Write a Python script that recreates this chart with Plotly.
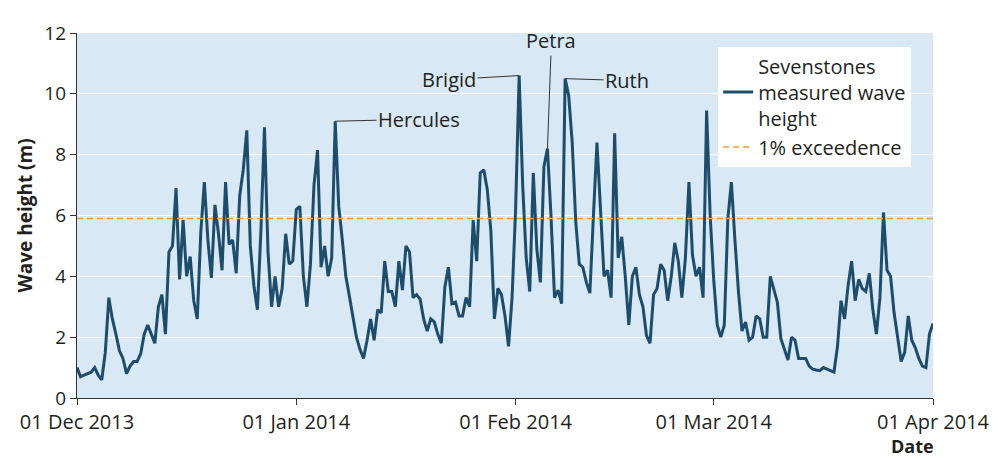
import pandas as pd
import plotly.graph_objects as go

# ---- data (12-hourly from 01 Dec 2013 00:00) ----
start_date = "2013-12-01"
wave_height = [
    1.0, 0.7, 0.75, 0.8, 0.85, 1.0, 0.75, 0.6, 1.5, 3.3,
    2.6, 2.1, 1.55, 1.3, 0.8, 1.05, 1.2, 1.2, 1.45, 2.1,
    2.4, 2.1, 1.8, 3.0, 3.4, 2.1, 4.8, 5.0, 6.9, 3.9,
    5.85, 4.0, 4.65, 3.2, 2.6, 5.45, 7.1, 5.2, 3.95, 6.35,
    5.4, 4.2, 7.1, 5.05, 5.2, 4.1, 6.65, 7.5, 8.8, 5.0,
    3.7, 2.9, 5.5, 8.9, 4.8, 3.0, 4.0, 3.0, 3.6, 5.4,
    4.4, 4.5, 6.2, 6.3, 4.0, 3.0, 4.4, 7.0, 8.15, 4.3,
    5.0, 4.0, 4.6, 9.1, 6.3, 5.2, 4.0, 3.35, 2.6, 2.0,
    1.6, 1.3, 1.9, 2.6, 1.9, 2.9, 2.8, 4.5, 3.5, 3.5,
    3.0, 4.5, 3.55, 5.0, 4.8, 3.3, 3.4, 3.25, 2.6, 2.2,
    2.6, 2.5, 2.1, 1.8, 3.65, 4.3, 3.1, 3.15, 2.7, 2.7,
    3.3, 3.0, 5.85, 4.5, 7.4, 7.5, 6.85, 5.5, 2.6, 3.6,
    3.4, 2.7, 1.7, 3.3, 6.2, 10.6, 7.0, 4.6, 3.5, 7.4,
    4.9, 3.8, 7.6, 8.2, 6.0, 3.3, 3.55, 3.1, 10.5, 9.95,
    8.4, 5.8, 4.4, 4.3, 3.8, 3.45, 6.0, 8.4, 6.2, 4.0,
    4.2, 3.3, 8.7, 4.6, 5.3, 4.0, 2.4, 4.0, 4.3, 3.4,
    3.0, 2.05, 1.8, 3.4, 3.6, 4.4, 4.2, 3.2, 4.0, 5.1,
    4.5, 3.3, 4.6, 7.1, 4.7, 4.0, 4.3, 3.3, 9.45, 6.0,
    3.9, 2.4, 2.0, 2.4, 5.9, 7.1, 5.2, 3.5, 2.2, 2.5,
    1.9, 2.0, 2.7, 2.6, 2.0, 2.0, 4.0, 3.55, 3.15, 1.95,
    1.6, 1.25, 2.0, 1.9, 1.3, 1.3, 1.3, 1.05, 0.95, 0.92,
    0.9, 1.0, 0.95, 0.88, 0.85, 1.7, 3.2, 2.6, 3.7, 4.5,
    3.2, 3.9, 3.6, 3.5, 4.1, 2.9, 2.1, 3.3, 6.1, 4.2,
    4.0, 2.8, 2.0, 1.2, 1.5, 2.7, 1.9, 1.65, 1.3, 1.05,
    1.0, 2.1, 2.45,
]
exceedence_1pct = 5.9
storm_names = ["Hercules", "Brigid", "Petra", "Ruth"]
storm_dates = ["2014-01-06", "2014-02-01", "2014-02-05", "2014-02-08"]
x_tick_dates = ["2013-12-01", "2014-01-01", "2014-02-01", "2014-03-01", "2014-04-01"]
x_tick_labels = ["01 Dec 2013", "01 Jan 2014", "01 Feb 2014", "01 Mar 2014", "01 Apr 2014"]
y_ticks = [0, 2, 4, 6, 8, 10, 12]

# ---- styling ----
FONT = "Open Sans, Noto Sans, DejaVu Sans, sans-serif"
TXT = "#231f20"
LINE_C = "#1e4d6b"
EXC_C = "#eba03a"
FS = 20

times = pd.date_range(start_date, periods=len(wave_height), freq="12h")
series = pd.Series(wave_height, index=times)

fig = go.Figure()
fig.add_trace(go.Scatter(
    x=times, y=wave_height, mode="lines",
    line=dict(color=LINE_C, width=3),
    name="Sevenstones<br>measured wave<br>height",
))
fig.add_trace(go.Scatter(
    x=[x_tick_dates[0], x_tick_dates[-1]], y=[exceedence_1pct, exceedence_1pct],
    mode="lines", line=dict(color=EXC_C, width=1.6, dash="6px,4px"),
    name="1% exceedence",
))

# storm labels, anchored to the local maximum near each storm date
offsets = {"Hercules": (84, -2), "Brigid": (-70, 4), "Petra": (4, -108), "Ruth": (62, 2)}
for name, d in zip(storm_names, storm_dates):
    c = pd.Timestamp(d)
    win = series[(series.index >= c - pd.Timedelta("1D")) & (series.index <= c + pd.Timedelta("1D"))]
    t = win.idxmax()
    ax, ay = offsets[name]
    fig.add_annotation(
        x=t, y=win.max(), text=name, showarrow=True, arrowhead=0,
        arrowwidth=1, arrowcolor="#333333", ax=ax, ay=ay, standoff=0,
        font=dict(family=FONT, size=FS, color=TXT),
    )

fig.add_annotation(
    x=1.003, y=-0.1307, xref="paper", yref="paper", xanchor="right", yanchor="middle",
    text="<b>Date</b>", showarrow=False, font=dict(family=FONT, size=18, color=TXT),
)

# page body has an 8px margin, so the figure is sized/offset to land the plot at 73..933 x 23..398
fig.update_layout(
    width=995, height=451,
    margin=dict(l=65, r=70, t=15, b=61),
    paper_bgcolor="white",
    plot_bgcolor="#d8e8f5",
    font=dict(family=FONT, size=FS, color=TXT),
    showlegend=True,
    legend=dict(
        x=0.749, y=0.963, xanchor="left", yanchor="top",
        bgcolor="white", borderwidth=0,
        font=dict(family=FONT, size=FS, color=TXT),
        itemwidth=30, tracegroupgap=4,
    ),
)
fig.update_xaxes(
    type="date", range=[x_tick_dates[0], x_tick_dates[-1]],
    tickvals=x_tick_dates, ticktext=x_tick_labels,
    showgrid=False, showline=True, linecolor="#333333", linewidth=1.2,
    ticks="outside", ticklen=6, tickcolor="#333333",
    tickfont=dict(family=FONT, size=FS, color=TXT), zeroline=False,
)
fig.update_yaxes(
    range=[0, 12], tickvals=y_ticks,
    showgrid=True, gridcolor="white", gridwidth=1.4,
    showline=True, linecolor="#333333", linewidth=1.2,
    ticks="outside", ticklen=6, tickcolor="#333333",
    tickfont=dict(family=FONT, size=19, color=TXT), zeroline=False,
    title=dict(text="<b>Wave height (m)</b>", font=dict(family=FONT, size=19, color=TXT), standoff=6),
)

fig.write_html("out.html")
